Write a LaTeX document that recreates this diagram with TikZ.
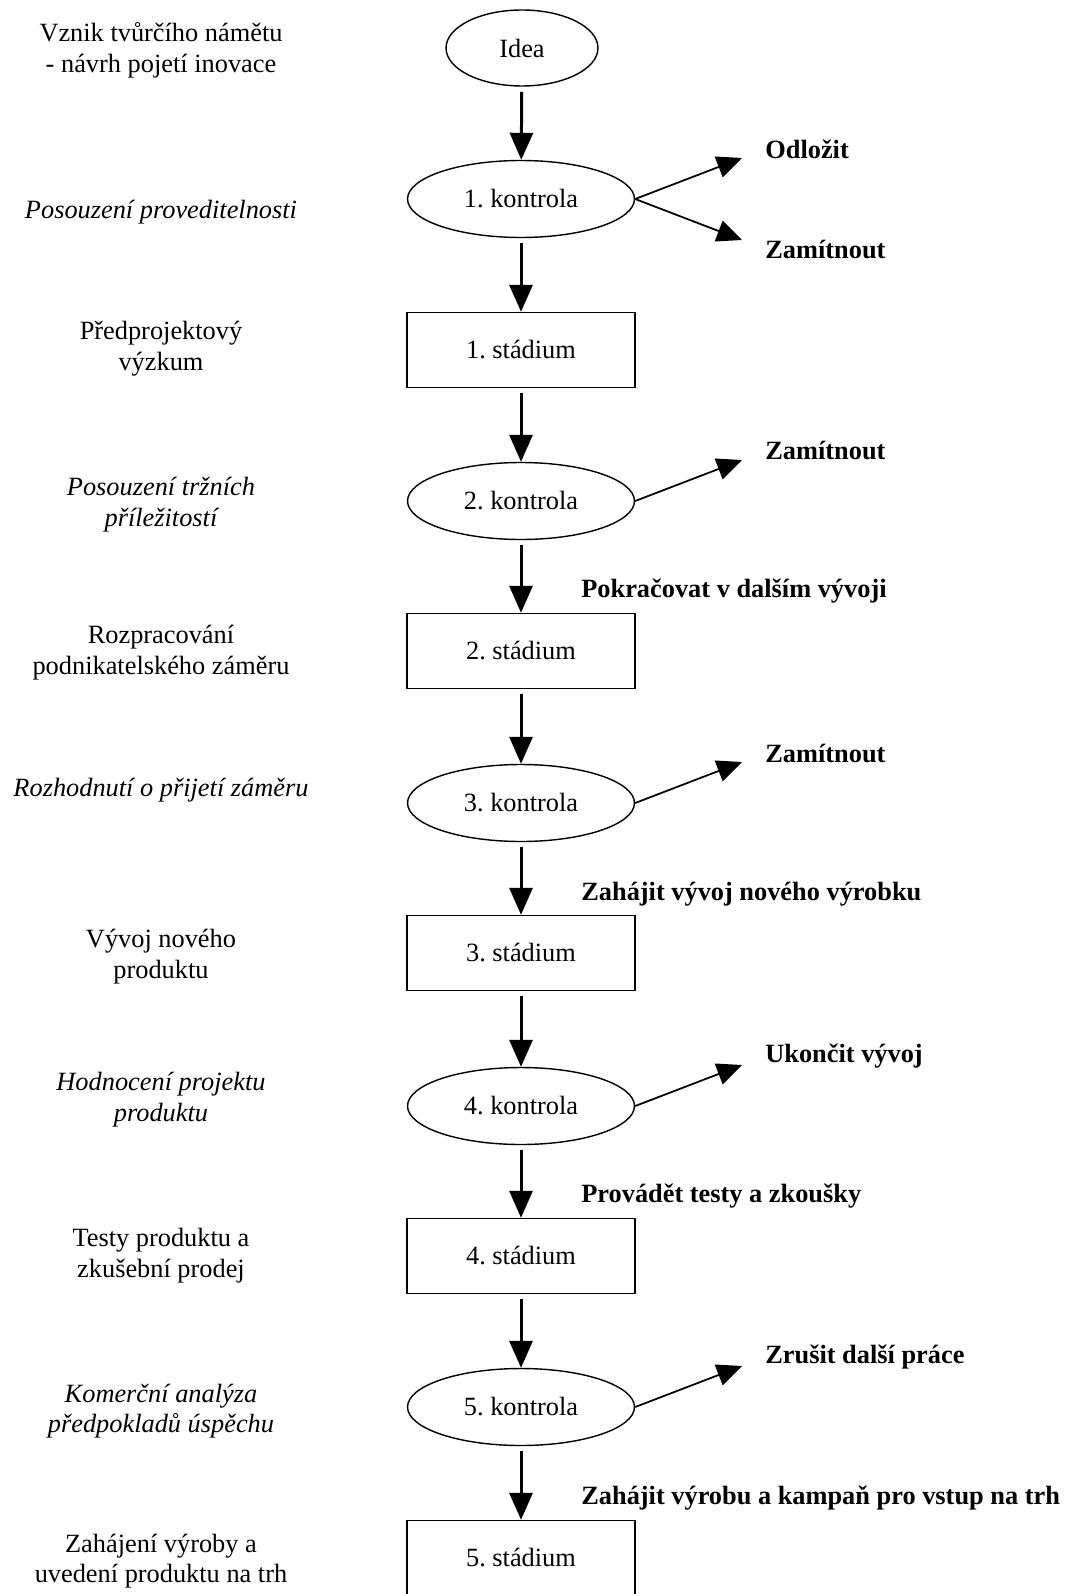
\documentclass[tikz,border=0pt]{standalone}
\usepackage{fontspec}
\setmainfont{Liberation Serif}
\usetikzlibrary{shapes.geometric,arrows.meta}
\frenchspacing

\begin{document}
\begin{tikzpicture}[x=0.02cm,y=-0.02cm,font=\fontsize{15}{17.5}\selectfont,
  kontrola/.style={ellipse,draw,line width=0.8pt,inner sep=0pt,minimum width=4.54cm,minimum height=1.54cm},
  stadium/.style={rectangle,draw,line width=0.8pt,inner sep=0pt,minimum width=4.56cm,minimum height=1.5cm},
  popis/.style={align=center,inner sep=0pt},
  vystup/.style={anchor=west,inner sep=0pt,font=\fontsize{15}{17.5}\selectfont\bfseries},
  krok/.style={-{Triangle[length=0.54cm,width=0.46cm]},line width=1.7pt,shorten <=3pt},
  odbocka/.style={-{Triangle[length=0.5cm,width=0.44cm]},line width=1pt}]
\useasboundingbox (0,0) rectangle (1069,1594);
% osa procesu
\node[kontrola,minimum width=3.04cm,minimum height=1.52cm] at (522,48) (idea) {Idea};
\node[kontrola] at (521,199) (k1) {1. kontrola};
\node[stadium] at (521,350) (s1) {1. stádium};
\node[kontrola] at (521,501) (k2) {2. kontrola};
\node[stadium] at (521,651) (s2) {2. stádium};
\node[kontrola] at (521,803) (k3) {3. kontrola};
\node[stadium] at (521,953) (s3) {3. stádium};
\node[kontrola] at (521,1106) (k4) {4. kontrola};
\node[stadium] at (521,1256) (s4) {4. stádium};
\node[kontrola] at (521,1407) (k5) {5. kontrola};
\node[stadium] at (521,1558) (s5) {5. stádium};
\draw[krok] (idea) -- (k1);
\draw[krok] (k1) -- (s1);
\draw[krok] (s1) -- (k2);
\draw[krok] (k2) -- (s2);
\draw[krok] (s2) -- (k3);
\draw[krok] (k3) -- (s3);
\draw[krok] (s3) -- (k4);
\draw[krok] (k4) -- (s4);
\draw[krok] (s4) -- (k5);
\draw[krok] (k5) -- (s5);
% rozhodnuti
\coordinate (o1a) at (742,158); \coordinate (o1b) at (742,240);
\coordinate (o2) at (742,460); \coordinate (o3) at (742,762);
\coordinate (o4) at (742,1065); \coordinate (o5) at (742,1366);
\draw[odbocka] (k1.east) -- (o1a);
\draw[odbocka] (k1.east) -- (o1b);
\draw[odbocka] (k2.east) -- (o2);
\draw[odbocka] (k3.east) -- (o3);
\draw[odbocka] (k4.east) -- (o4);
\draw[odbocka] (k5.east) -- (o5);
\node[vystup] at (765,149) (odlozit) {Odložit};
\node[vystup] at (765,250) (zam1) {Zamítnout};
\node[vystup] at (765,451) (zam2) {Zamítnout};
\node[vystup] at (765,753) (zam3) {Zamítnout};
\node[vystup] at (765,1056) (ukoncit) {Ukončit vývoj};
\node[vystup] at (765,1357) (zrusit) {Zrušit další práce};
\node[vystup] at (581,591) (pokr2) {Pokračovat v dalším vývoji};
\node[vystup] at (581,894) (pokr3) {Zahájit vývoj nového výrobku};
\node[vystup] at (581,1196) (pokr4) {Provádět testy a zkoušky};
\node[vystup] at (581,1498) (pokr5) {Zahájit výrobu a kampaň pro vstup na trh};
% levy sloupec
\node[popis] at (161,50) (t0) {Vznik tvůrčího námětu\\- návrh pojetí inovace};
\node[popis,font=\fontsize{15}{17.5}\selectfont\itshape] at (161,212) (p1) {Posouzení proveditelnosti};
\node[popis] at (161,349) (t1) {Předprojektový\\výzkum};
\node[popis,font=\fontsize{15}{17.5}\selectfont\itshape] at (161,505) (p2) {Posouzení tržních\\příležitostí};
\node[popis] at (161,653) (t2) {Rozpracování\\podnikatelského záměru};
\node[popis,font=\fontsize{15}{17.5}\selectfont\itshape] at (161,790) (p3) {Rozhodnutí o přijetí záměru};
\node[popis] at (161,957) (t3) {Vývoj nového\\produktu};
\node[popis,font=\fontsize{15}{17.5}\selectfont\itshape] at (161,1100) (p4) {Hodnocení projektu\\produktu};
\node[popis] at (161,1256) (t4) {Testy produktu a\\zkušební prodej};
\node[popis,font=\fontsize{15}{17.5}\selectfont\itshape] at (161,1411) (p5) {Komerční analýza\\předpokladů úspěchu};
\node[popis] at (161,1561) (t5) {Zahájení výroby a\\uvedení produktu na trh};
\end{tikzpicture}
\end{document}
